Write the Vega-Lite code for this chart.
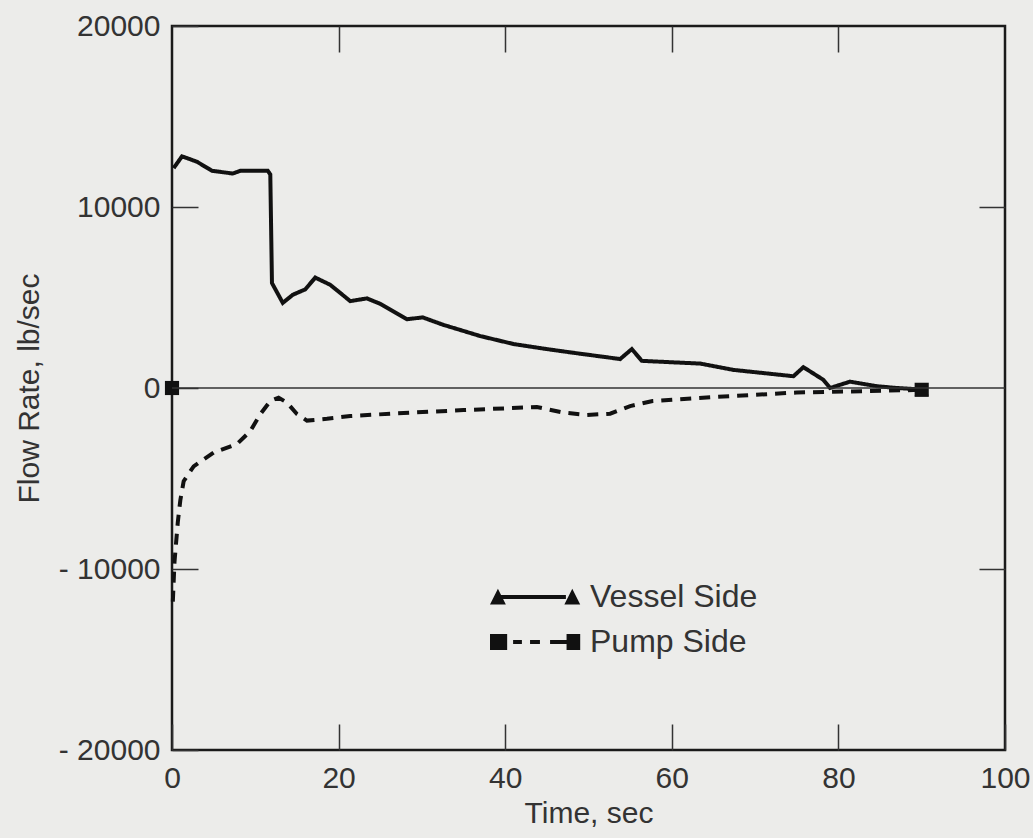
{
  "$schema": "https://vega.github.io/schema/vega-lite/v6.json",
  "width": 833,
  "height": 724,
  "autosize": "none",
  "padding": {"left": 172, "top": 26, "right": 28, "bottom": 88},
  "background": "#ececea",
  "config": {
    "view": {"stroke": "#1a1a1a", "strokeWidth": 2.5},
    "font": "Liberation Sans",
    "axis": {
      "labelFont": "Liberation Sans",
      "titleFont": "Liberation Sans",
      "labelColor": "#333333",
      "titleColor": "#333333",
      "labelFontSize": 30,
      "titleFontSize": 30,
      "titleFontWeight": "normal",
      "grid": false,
      "domain": false,
      "tickColor": "#333333",
      "tickWidth": 1.5
    }
  },
  "datasets": {
    "curves": [
      {"series": "Vessel Side", "t": 0.2, "v": 12150},
      {"series": "Vessel Side", "t": 1.2, "v": 12800},
      {"series": "Vessel Side", "t": 3.0, "v": 12500},
      {"series": "Vessel Side", "t": 4.8, "v": 12000},
      {"series": "Vessel Side", "t": 7.3, "v": 11850},
      {"series": "Vessel Side", "t": 8.2, "v": 12000},
      {"series": "Vessel Side", "t": 11.5, "v": 12000},
      {"series": "Vessel Side", "t": 11.8, "v": 11800},
      {"series": "Vessel Side", "t": 12.0, "v": 5800},
      {"series": "Vessel Side", "t": 13.3, "v": 4700},
      {"series": "Vessel Side", "t": 14.5, "v": 5150},
      {"series": "Vessel Side", "t": 16.0, "v": 5450},
      {"series": "Vessel Side", "t": 17.2, "v": 6100},
      {"series": "Vessel Side", "t": 19.0, "v": 5700},
      {"series": "Vessel Side", "t": 21.4, "v": 4800},
      {"series": "Vessel Side", "t": 23.4, "v": 4950},
      {"series": "Vessel Side", "t": 25.0, "v": 4650},
      {"series": "Vessel Side", "t": 28.2, "v": 3800},
      {"series": "Vessel Side", "t": 30.1, "v": 3900},
      {"series": "Vessel Side", "t": 32.5, "v": 3500},
      {"series": "Vessel Side", "t": 37.0, "v": 2870},
      {"series": "Vessel Side", "t": 41.0, "v": 2430},
      {"series": "Vessel Side", "t": 45.0, "v": 2150},
      {"series": "Vessel Side", "t": 48.1, "v": 1950},
      {"series": "Vessel Side", "t": 53.8, "v": 1600},
      {"series": "Vessel Side", "t": 55.2, "v": 2150},
      {"series": "Vessel Side", "t": 56.4, "v": 1500},
      {"series": "Vessel Side", "t": 61.0, "v": 1400},
      {"series": "Vessel Side", "t": 63.4, "v": 1350},
      {"series": "Vessel Side", "t": 67.4, "v": 1000},
      {"series": "Vessel Side", "t": 74.6, "v": 650},
      {"series": "Vessel Side", "t": 75.8, "v": 1150},
      {"series": "Vessel Side", "t": 78.2, "v": 450},
      {"series": "Vessel Side", "t": 79.0, "v": 0},
      {"series": "Vessel Side", "t": 81.4, "v": 350},
      {"series": "Vessel Side", "t": 84.6, "v": 100},
      {"series": "Vessel Side", "t": 87.0, "v": 0},
      {"series": "Vessel Side", "t": 90.0, "v": -80},
      {"series": "Pump Side", "t": 0.1, "v": -11800},
      {"series": "Pump Side", "t": 0.3, "v": -9600},
      {"series": "Pump Side", "t": 0.7, "v": -7400},
      {"series": "Pump Side", "t": 1.0, "v": -6200},
      {"series": "Pump Side", "t": 1.4, "v": -5150},
      {"series": "Pump Side", "t": 2.6, "v": -4330},
      {"series": "Pump Side", "t": 5.0, "v": -3570},
      {"series": "Pump Side", "t": 7.8, "v": -3100},
      {"series": "Pump Side", "t": 9.4, "v": -2380},
      {"series": "Pump Side", "t": 10.6, "v": -1450},
      {"series": "Pump Side", "t": 11.8, "v": -720},
      {"series": "Pump Side", "t": 12.8, "v": -540},
      {"series": "Pump Side", "t": 13.8, "v": -800},
      {"series": "Pump Side", "t": 15.0, "v": -1440},
      {"series": "Pump Side", "t": 16.2, "v": -1800},
      {"series": "Pump Side", "t": 18.6, "v": -1700},
      {"series": "Pump Side", "t": 21.4, "v": -1550},
      {"series": "Pump Side", "t": 27.0, "v": -1400},
      {"series": "Pump Side", "t": 35.0, "v": -1220},
      {"series": "Pump Side", "t": 43.8, "v": -1050},
      {"series": "Pump Side", "t": 47.0, "v": -1360},
      {"series": "Pump Side", "t": 49.8, "v": -1490},
      {"series": "Pump Side", "t": 52.6, "v": -1420},
      {"series": "Pump Side", "t": 55.0, "v": -1000},
      {"series": "Pump Side", "t": 57.7, "v": -720},
      {"series": "Pump Side", "t": 60.6, "v": -630},
      {"series": "Pump Side", "t": 65.0, "v": -500},
      {"series": "Pump Side", "t": 75.0, "v": -250},
      {"series": "Pump Side", "t": 85.4, "v": -150},
      {"series": "Pump Side", "t": 90.0, "v": -100}
    ],
    "markers": [
      {"series": "Vessel Side", "t": 90.0, "v": -80},
      {"series": "Pump Side", "t": 0.0, "v": 0},
      {"series": "Pump Side", "t": 90.0, "v": -100}
    ]
  },
  "layer": [
    {
      "data": {"name": "curves"},
      "mark": {"type": "line", "color": "#111111", "strokeWidth": 4, "interpolate": "linear"},
      "encoding": {
        "x": {
          "field": "t", "type": "quantitative",
          "scale": {"domain": [0, 100], "nice": false},
          "axis": {"orient": "bottom", "values": [0, 20, 40, 60, 80, 100], "tickSize": -26, "labelPadding": 39, "title": "Time, sec", "titlePadding": 5, "labelFlush": false}
        },
        "y": {
          "field": "v", "type": "quantitative",
          "scale": {"domain": [-20000, 20000], "nice": false},
          "axis": {"orient": "left", "values": [-20000, -10000, 0, 10000, 20000], "tickSize": -26, "labelPadding": 38, "title": "Flow Rate, lb/sec", "titlePadding": 14,
            "labelExpr": "datum.value < 0 ? '- ' + format(abs(datum.value), 'd') : format(datum.value, 'd')"}
        },
        "detail": {"field": "series"},
        "strokeDash": {
          "field": "series", "type": "nominal",
          "scale": {"domain": ["Vessel Side", "Pump Side"], "range": [[1, 0], [11, 8]]},
          "legend": null
        }
      }
    },
    {
      "data": {"name": "markers"},
      "mark": {"type": "point", "filled": true, "color": "#111111", "opacity": 1, "size": 200},
      "encoding": {
        "x": {"field": "t", "type": "quantitative",
          "axis": {"orient": "top", "values": [20, 40, 60, 80], "tickSize": -26, "labels": false, "title": null}},
        "y": {"field": "v", "type": "quantitative",
          "axis": {"orient": "right", "values": [-10000, 10000], "tickSize": -26, "labels": false, "title": null}},
        "shape": {
          "field": "series", "type": "nominal",
          "scale": {"domain": ["Vessel Side", "Pump Side"], "range": ["triangle-up", "square"]},
          "legend": null
        }
      }
    },
    {
      "data": {"values": [{"z": 0}]},
      "mark": {"type": "rule", "color": "#333333", "strokeWidth": 1.5},
      "encoding": {
        "y": {"field": "z", "type": "quantitative", "axis": null}
      }
    },
    {
      "data": {"name": "markers"},
      "mark": {"type": "point", "filled": true, "color": "#111111", "opacity": 0, "size": 1936},
      "encoding": {
        "x": {"field": "t", "type": "quantitative", "axis": null},
        "y": {"field": "v", "type": "quantitative", "axis": null},
        "shape": {
          "field": "series", "type": "nominal",
          "scale": {"domain": ["Vessel Side", "Pump Side"],
            "range": [
              "M-1,0.34L-0.64,-0.38L-0.28,0.34ZM-0.5,-0.09L2.45,-0.09L2.45,0.09L-0.5,0.09ZM2.38,0.34L2.74,-0.38L3.1,0.34Z",
              "M-1,-0.36L-0.22,-0.36L-0.22,0.36L-1,0.36ZM0.05,-0.09L0.45,-0.09L0.45,0.09L0.05,0.09ZM0.82,-0.09L1.27,-0.09L1.27,0.09L0.82,0.09ZM1.73,-0.09L2.6,-0.09L2.6,0.09L1.73,0.09ZM2.48,-0.36L3.1,-0.36L3.1,0.36L2.48,0.36Z"
            ]},
          "legend": {
            "title": null,
            "orient": "none",
            "legendX": 318,
            "legendY": 549,
            "padding": 0,
            "symbolSize": 1936,
            "symbolOpacity": 1,
            "symbolFillColor": "#111111",
            "symbolStrokeColor": "#111111",
            "symbolStrokeWidth": 0,
            "labelFont": "Liberation Sans",
            "labelFontSize": 32,
            "labelColor": "#333333",
            "labelOffset": 56,
            "rowPadding": 7,
            "labelLimit": 400
          }
        }
      }
    }
  ],
  "resolve": {
    "scale": {"shape": "independent"},
    "axis": {"x": "independent", "y": "independent"},
    "legend": {"shape": "independent"}
  }
}
